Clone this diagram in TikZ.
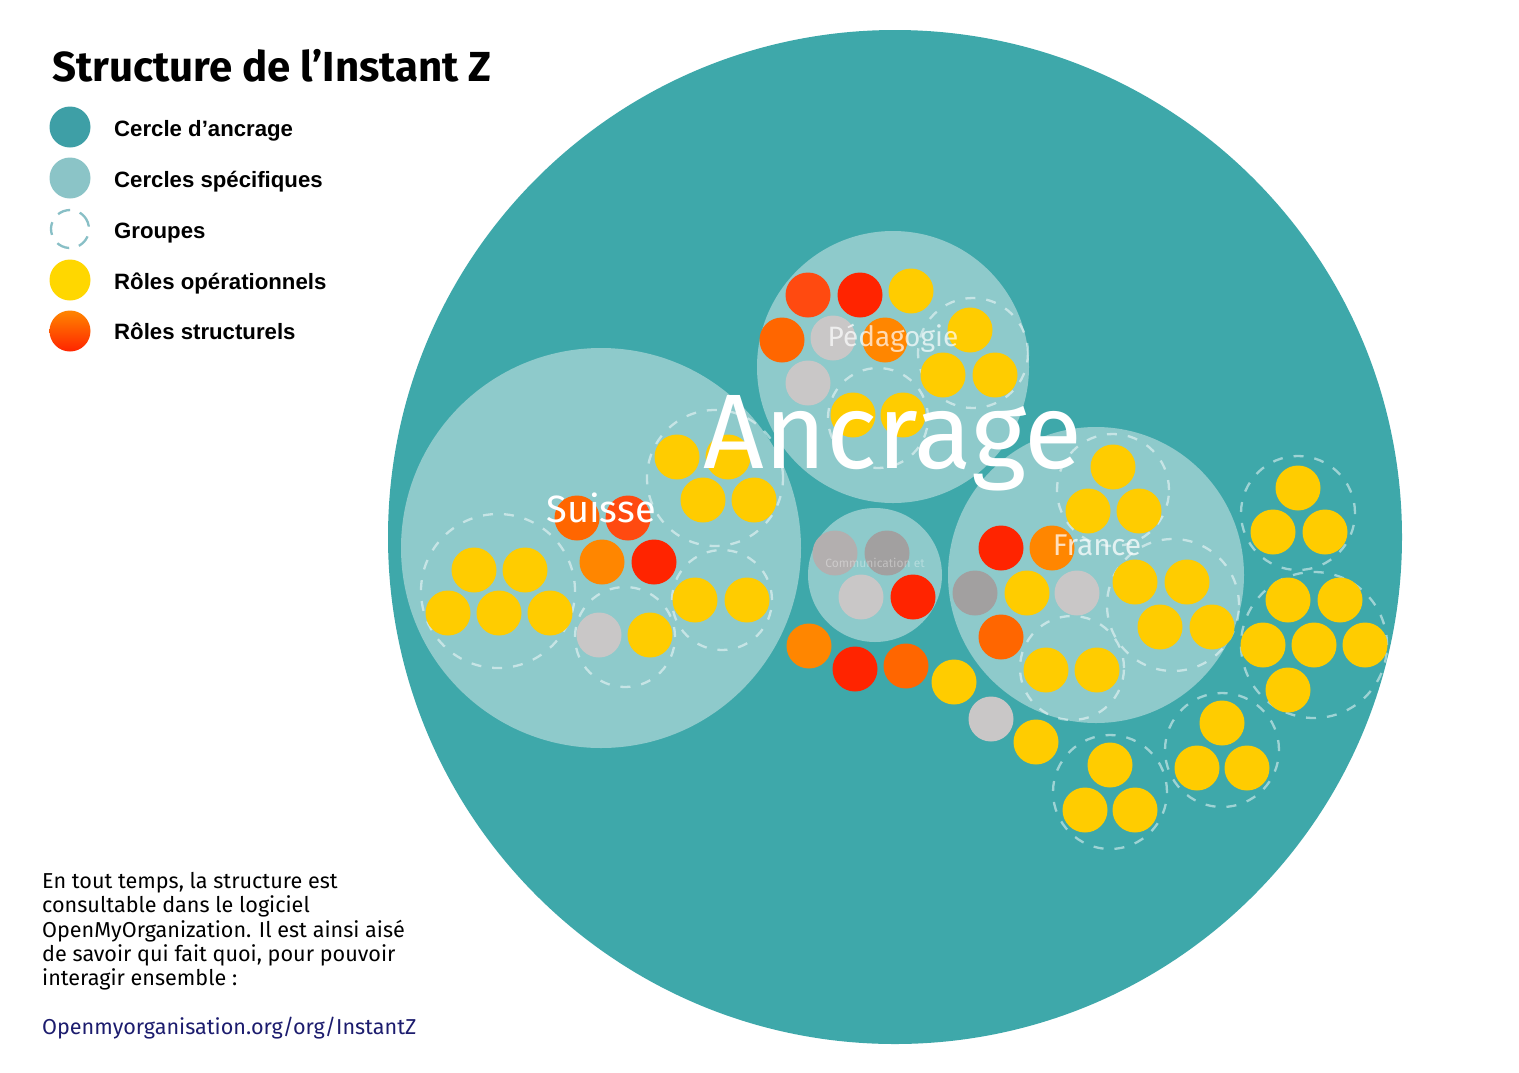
\documentclass[tikz,border=0pt]{standalone}
\usepackage{fontspec}
\setmainfont{Fira Sans}
\newfontfamily\legfont{Liberation Sans}
\usetikzlibrary{shapes.geometric}
\definecolor{teal0}{HTML}{3EA8AA}
\definecolor{tealL}{HTML}{8ECACB}
\definecolor{legteal}{HTML}{3E9FA6}
\definecolor{legL}{HTML}{8BC4C7}
\definecolor{legdash}{HTML}{88BFC6}
\definecolor{Y}{HTML}{FFCC00}
\definecolor{legY}{HTML}{FFD700}
\definecolor{R1}{HTML}{FF2400}
\definecolor{R2}{HTML}{FF4A10}
\definecolor{R3}{HTML}{FF6600}
\definecolor{R4}{HTML}{FF8600}
\definecolor{LG}{HTML}{C9C7C7}
\definecolor{MG}{HTML}{A2A0A0}
\definecolor{CG}{HTML}{B3AFAF}
\definecolor{navy}{HTML}{1C1C6E}
\tikzset{
  role/.style={circle, inner sep=0pt, minimum size=45pt, draw=none},
  spec/.style={circle, inner sep=0pt, fill=tealL, draw=none},
  grp/.style={circle, inner sep=0pt, draw=white, draw opacity=0.5, line width=2.3pt, dash pattern=on 10pt off 11pt},
  legdot/.style={circle, inner sep=0pt, minimum size=41pt, draw=none},
  legtxt/.style={anchor=base west, inner sep=0pt, font=\legfont\bfseries\fontsize{22.2}{24}\selectfont, text=black},
  lbl/.style={text=white, inner sep=0pt},
  bodytxt/.style={anchor=base west, inner sep=0pt, font=\fontsize{21.6}{24.4}\selectfont}
}
\begin{document}
\begin{tikzpicture}[x=1pt,y=-1pt]
\useasboundingbox[fill=white] (0,0) rectangle (1519,1072);

% ---- legend ----
\node[anchor=base west, inner sep=0pt, font=\bfseries\fontsize{42}{44}\selectfont] (title) at (52,81) {Structure de l’Instant Z};
\node[legdot, fill=legteal] (lg1) at (70,127) {};
\node[legdot, fill=legL] (lg2) at (70,178) {};
\node[circle, inner sep=0pt, minimum size=38pt, draw=legdash, line width=2.3pt, dash pattern=on 13pt off 10pt, rotate=20] (lg3) at (70,229) {};
\node[legdot, fill=legY] (lg4) at (70,280) {};
\shade[top color=R4, bottom color=R1] (70,331) circle[radius=20.5pt];
\node[legdot] (lg5) at (70,331) {};
\node[legtxt] (lt1) at (114,136) {Cercle d’ancrage};
\node[legtxt] (lt2) at (114,187) {Cercles spécifiques};
\node[legtxt] (lt3) at (114,238) {Groupes};
\node[legtxt] (lt4) at (114,289) {Rôles opérationnels};
\node[legtxt] (lt5) at (114,339) {Rôles structurels};

% ---- bottom text ----
\node[bodytxt] (b1) at (42,888) {En tout temps, la structure est};
\node[bodytxt] (b2) at (42,912) {consultable dans le logiciel};
\node[bodytxt] (b3) at (42,937) {OpenMyOrganization. Il est ainsi aisé};
\node[bodytxt] (b4) at (42,961) {de savoir qui fait quoi, pour pouvoir};
\node[bodytxt] (b5) at (42,985) {interagir ensemble :};
\node[bodytxt, text=navy] (link) at (42,1034) {Openmyorganisation.org/org/InstantZ};

% ---- anchor circle ----
\node[circle, inner sep=0pt, fill=teal0, minimum size=1014pt] (ancrage) at (895,537) {};

% ---- specific circles ----
\node[spec, minimum size=400pt] (suisse) at (601,548) {};
\node[spec, minimum size=272pt] (peda) at (893,367) {};
\node[spec, minimum size=296pt] (france) at (1096,575) {};
\node[spec, minimum size=134pt] (comm) at (875,575) {};

% ---- groups ----
\node[grp, minimum size=110pt] (gp1) at (973,353) {};
\node[grp, minimum size=100pt] (gp2) at (878,418) {};
\node[grp, minimum size=154pt] (gs1) at (498,591) {};
\node[grp, minimum size=100pt] (gs2) at (625,637) {};
\node[grp, minimum size=100pt] (gs3) at (722,600) {};
\node[grp, minimum size=136pt] (gs4) at (715,478) {};
\node[grp, minimum size=112pt] (gf1) at (1113,490) {};
\node[grp, minimum size=132pt] (gf2) at (1173,605) {};
\node[grp, minimum size=104pt] (gf3) at (1072,668) {};
\node[grp, minimum size=114pt] (go1) at (1298,513) {};
\node[grp, minimum size=146pt] (go2) at (1314,645) {};
\node[grp, minimum size=114pt] (go3) at (1222,750) {};
\node[grp, minimum size=114pt] (go4) at (1110,792) {};

% ---- roles: Pedagogie ----
\node[role, fill=R2] (p1) at (808,295) {};
\node[role, fill=R1] (p2) at (860,295) {};
\node[role, fill=Y] (p3) at (911,291) {};
\node[role, fill=R3] (p4) at (782,340) {};
\node[role, fill=LG] (p5) at (833,338) {};
\node[role, fill=R4] (p6) at (885,340) {};
\node[role, fill=Y] (p7) at (970,330) {};
\node[role, fill=LG] (p8) at (808,383) {};
\node[role, fill=Y] (p9) at (943,375) {};
\node[role, fill=Y] (p10) at (995,375) {};
\node[role, fill=Y] (p11) at (853,415) {};
\node[role, fill=Y] (p12) at (903,415) {};

% ---- roles: Suisse ----
\node[role, fill=R3] (s1) at (577,518) {};
\node[role, fill=R2] (s2) at (628,518) {};
\node[role, fill=R4] (s3) at (602,562) {};
\node[role, fill=R1] (s4) at (654,562) {};
\node[role, fill=Y] (s5) at (474,570) {};
\node[role, fill=Y] (s6) at (525,570) {};
\node[role, fill=Y] (s7) at (448,613) {};
\node[role, fill=Y] (s8) at (499,613) {};
\node[role, fill=Y] (s9) at (550,613) {};
\node[role, fill=LG] (s10) at (599,635) {};
\node[role, fill=Y] (s11) at (650,635) {};
\node[role, fill=Y] (s12) at (695,600) {};
\node[role, fill=Y] (s13) at (747,600) {};
\node[role, fill=Y] (s14) at (677,457) {};
\node[role, fill=Y] (s15) at (728,457) {};
\node[role, fill=Y] (s16) at (703,500) {};
\node[role, fill=Y] (s17) at (754,500) {};

% ---- roles: Communication ----
\node[role, fill=CG] (c1) at (835,553) {};
\node[role, fill=MG] (c2) at (887,553) {};
\node[role, fill=LG] (c3) at (861,597) {};
\node[role, fill=R1] (c4) at (913,597) {};

% ---- roles: anchor circle directly ----
\node[role, fill=R4] (a1) at (809,646) {};
\node[role, fill=R1] (a2) at (855,669) {};
\node[role, fill=R3] (a3) at (906,666) {};
\node[role, fill=Y] (a4) at (954,682) {};
\node[role, fill=LG] (a5) at (991,719) {};
\node[role, fill=Y] (a6) at (1036,742) {};

% ---- roles: France ----
\node[role, fill=R1] (f1) at (1001,548) {};
\node[role, fill=R4] (f2) at (1052,548) {};
\node[role, fill=MG] (f3) at (975,593) {};
\node[role, fill=Y] (f4) at (1027,593) {};
\node[role, fill=LG] (f5) at (1077,593) {};
\node[role, fill=R3] (f6) at (1001,637) {};
\node[role, fill=Y] (f7) at (1046,670) {};
\node[role, fill=Y] (f8) at (1097,670) {};
\node[role, fill=Y] (f9) at (1113,467) {};
\node[role, fill=Y] (f10) at (1088,511) {};
\node[role, fill=Y] (f11) at (1139,511) {};
\node[role, fill=Y] (f12) at (1135,582) {};
\node[role, fill=Y] (f13) at (1187,582) {};
\node[role, fill=Y] (f14) at (1160,627) {};
\node[role, fill=Y] (f15) at (1212,627) {};

% ---- roles: outer groups ----
\node[role, fill=Y] (o1) at (1298,488) {};
\node[role, fill=Y] (o2) at (1273,532) {};
\node[role, fill=Y] (o3) at (1325,532) {};
\node[role, fill=Y] (o4) at (1288,600) {};
\node[role, fill=Y] (o5) at (1340,600) {};
\node[role, fill=Y] (o6) at (1263,645) {};
\node[role, fill=Y] (o7) at (1314,645) {};
\node[role, fill=Y] (o8) at (1365,645) {};
\node[role, fill=Y] (o9) at (1288,690) {};
\node[role, fill=Y] (o10) at (1222,723) {};
\node[role, fill=Y] (o11) at (1197,768) {};
\node[role, fill=Y] (o12) at (1247,768) {};
\node[role, fill=Y] (o13) at (1110,765) {};
\node[role, fill=Y] (o14) at (1085,810) {};
\node[role, fill=Y] (o15) at (1135,810) {};

% ---- labels ----
\node[lbl, text opacity=0.7, font=\fontsize{28}{30}\selectfont] (tp) at (893,338) {Pédagogie};
\node[lbl, font=\fontsize{38}{40}\selectfont] (ts) at (601,508) {Suisse};
\node[lbl, text opacity=0.75, font=\fontsize{30}{32}\selectfont] (tf) at (1097,545) {France};
\node[lbl, text opacity=0.35, font=\fontsize{12}{14}\selectfont] (tc) at (875,563) {Communication et};
\node[lbl, anchor=base, font=\fontsize{106}{110}\selectfont] (ta) at (893,468) {Ancrage};
\end{tikzpicture}
\end{document}
